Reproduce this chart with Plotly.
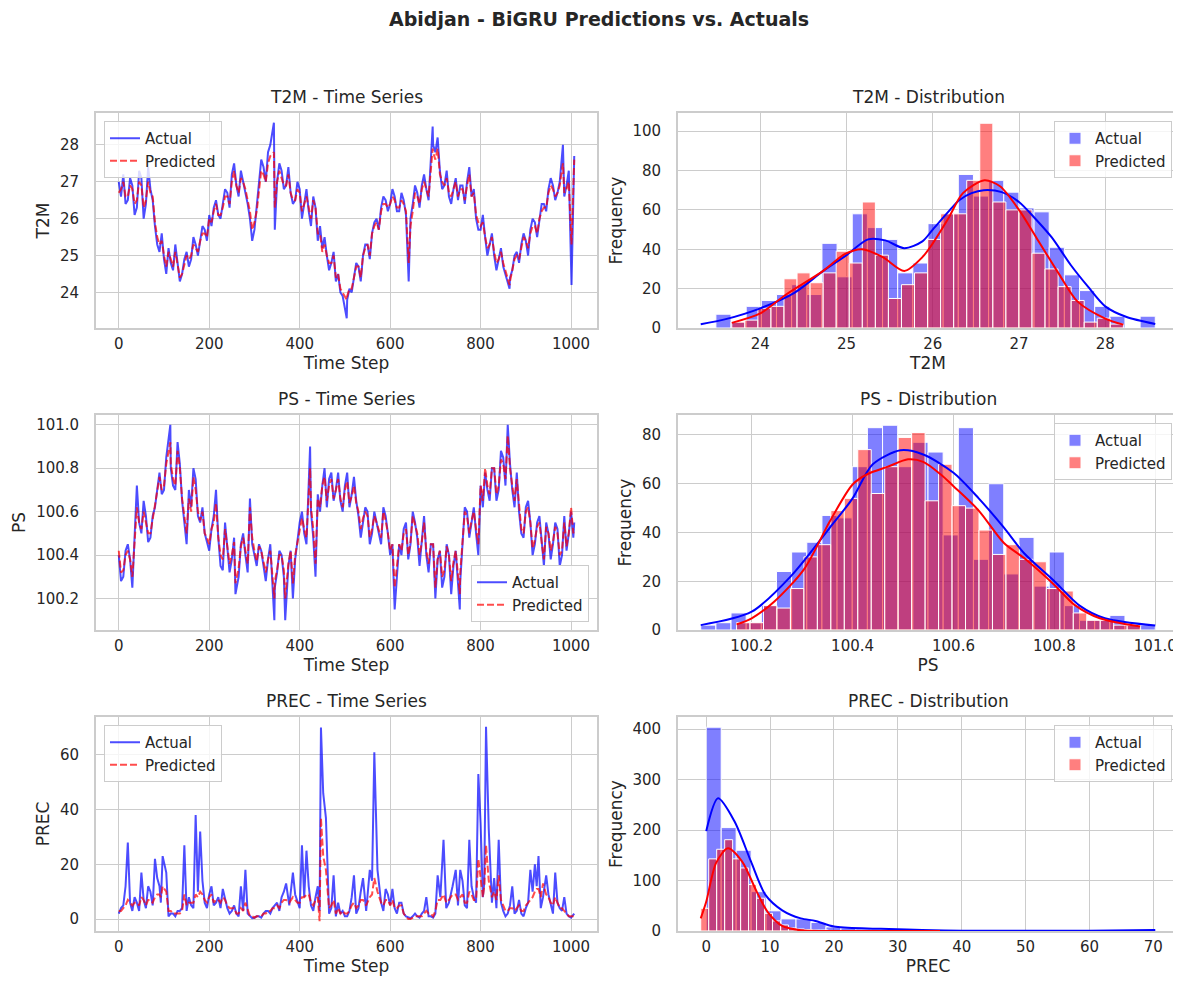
import numpy as np
import plotly.graph_objects as go
from plotly.subplots import make_subplots

# ---------------- time series ----------------
# main readings roughly every 10 steps, plus the visible spikes
t2m_steps = [0, 10, 20, 30, 40, 50, 60, 70, 80, 90,
             100, 110, 120, 130, 140, 150, 160, 170, 180, 190,
             200, 210, 220, 230, 240, 250, 260, 270, 280, 290,
             300, 310, 320, 330, 343, 350, 360, 370, 380, 390,
             400, 410, 420, 430, 440, 450, 460, 470, 480, 490,
             504, 510, 520, 530, 540, 550, 560, 570, 580, 590,
             600, 610, 620, 630, 641, 650, 660, 670, 680, 694,
             700, 710, 720, 730, 740, 750, 760, 770, 780, 790,
             800, 810, 820, 830, 840, 850, 864, 870, 880, 890,
             900, 910, 920, 930, 940, 950, 960, 970, 982, 990,
             1001, 1007]
t2m_actual = [27.0, 27.2, 26.5, 26.9, 26.3, 27.1, 26.4, 26.8, 25.8, 25.1,
              24.9, 25.2, 24.6, 24.8, 24.5, 25.1, 24.9, 25.3, 25.4, 25.7,
              26.1, 26.3, 26.1, 26.4, 26.7, 27.2, 26.9, 27.3, 26.8, 26.0,
              25.7, 27.0, 27.4, 27.8, 28.6, 27.0, 27.3, 26.9, 26.7, 26.5,
              26.8, 26.4, 26.2, 26.6, 25.4, 25.2, 25.0, 24.8, 24.3, 24.0,
              23.3, 24.1, 24.4, 24.7, 25.0, 25.3, 25.6, 26.0, 26.3, 26.5,
              26.4, 26.6, 26.2, 26.5, 24.3, 26.4, 26.7, 26.9, 26.8, 28.5,
              27.8, 27.3, 26.9, 26.6, 26.8, 26.5, 26.9, 27.0, 26.6, 26.0,
              25.7, 25.5, 25.3, 25.0, 24.9, 24.7, 24.1, 24.6, 25.1, 25.3,
              25.4, 25.7, 25.9, 26.0, 26.4, 26.8, 26.9, 26.7, 28.0, 26.9,
              24.2, 27.7]
t2m_pred = [26.7, 27.0, 26.6, 26.8, 26.5, 26.9, 26.5, 26.7, 25.9, 25.3,
            25.0, 25.1, 24.7, 24.8, 24.5, 25.0, 25.0, 25.2, 25.4, 25.6,
            26.0, 26.2, 26.1, 26.3, 26.6, 27.0, 26.9, 27.1, 26.8, 26.2,
            25.9, 26.8, 27.2, 27.5, 27.8, 27.0, 27.1, 26.9, 26.7, 26.5,
            26.7, 26.4, 26.3, 26.5, 25.6, 25.1, 25.0, 24.8, 24.4, 24.1,
            23.8, 24.1, 24.4, 24.7, 25.0, 25.3, 25.6, 25.9, 26.2, 26.4,
            26.4, 26.5, 26.3, 26.4, 24.8, 26.2, 26.6, 26.8, 26.8, 27.9,
            27.6, 27.2, 26.9, 26.7, 26.8, 26.6, 26.8, 26.9, 26.6, 26.1,
            25.8, 25.5, 25.3, 25.1, 24.9, 24.8, 24.2, 24.6, 25.0, 25.2,
            25.4, 25.6, 25.8, 26.0, 26.3, 26.7, 26.8, 26.7, 27.5, 26.8,
            25.3, 27.6]
# in-between readings (steps 5, 15, ..., 1005)
t2m_mid_steps = list(range(5, 1006, 10))
t2m_mid_actual = [26.6, 26.4, 27.1, 26.1, 27.3, 26.0, 27.4, 26.5, 25.3, 25.6,
                  24.5, 24.8, 25.3, 24.3, 24.9, 24.7, 25.5, 25.0, 25.8, 25.4,
                  25.8, 26.5, 26.0, 26.8, 26.3, 27.5, 26.6, 27.0, 26.4, 25.4,
                  26.4, 27.6, 27.0, 28.0, 25.7, 27.5, 26.8, 27.4, 26.4, 27.0,
                  26.0, 26.8, 25.8, 26.3, 25.8, 25.5, 24.6, 25.1, 24.5, 23.9,
                  23.8, 24.0, 24.8, 24.3, 25.3, 24.9, 25.9, 25.7, 26.6, 26.2,
                  26.8, 26.2, 26.7, 26.1, 26.0, 26.9, 26.3, 27.2, 26.5, 28.0,
                  28.2, 26.8, 27.3, 26.4, 27.1, 26.9, 26.4, 27.4, 26.8, 25.7,
                  26.1, 25.0, 25.6, 24.6, 25.2, 24.5, 24.4, 25.0, 24.8, 25.6,
                  25.0, 26.0, 25.5, 26.4, 26.2, 27.1, 26.5, 27.0, 26.6, 27.3,
                  26.5]
t2m_mid_pred = [26.8, 26.6, 26.9, 26.4, 27.0, 26.3, 27.0, 26.6, 25.5, 25.4,
                24.7, 24.9, 25.1, 24.4, 24.8, 24.9, 25.3, 25.1, 25.6, 25.5,
                25.9, 26.4, 26.1, 26.6, 26.4, 27.3, 26.7, 27.0, 26.5, 25.7,
                26.2, 27.3, 27.0, 27.7, 26.3, 27.3, 26.9, 27.2, 26.5, 26.8,
                26.2, 26.6, 26.0, 26.3, 25.6, 25.3, 24.8, 25.0, 24.5, 24.0,
                23.9, 24.1, 24.7, 24.4, 25.2, 25.0, 25.8, 25.7, 26.4, 26.3,
                26.6, 26.3, 26.5, 26.2, 25.8, 26.7, 26.4, 27.0, 26.6, 27.8,
                27.9, 27.0, 27.1, 26.6, 27.0, 26.8, 26.5, 27.2, 26.7, 25.9,
                25.9, 25.2, 25.5, 24.8, 25.1, 24.6, 24.3, 24.9, 24.9, 25.5,
                25.2, 25.8, 25.6, 26.2, 26.3, 26.9, 26.6, 26.9, 26.7, 27.0,
                26.8]

ps_steps = [0, 10, 20, 30, 40, 50, 60, 70, 80, 90,
            100, 114, 120, 130, 140, 150, 160, 170, 180, 190,
            200, 210, 220, 230, 240, 250, 258, 270, 280, 290,
            300, 310, 320, 330, 344, 350, 360, 368, 380, 390,
            400, 410, 423, 430, 440, 450, 460, 470, 480, 490,
            500, 510, 520, 530, 540, 550, 560, 570, 580, 590,
            600, 610, 620, 630, 640, 650, 660, 670, 680, 690,
            700, 710, 720, 730, 740, 754, 760, 770, 780, 790,
            800, 810, 820, 830, 840, 850, 860, 870, 880, 890,
            900, 910, 920, 930, 940, 950, 960, 970, 980, 990,
            1000, 1007]
ps_actual = [100.40, 100.30, 100.45, 100.25, 100.72, 100.50, 100.58, 100.48, 100.62, 100.78,
             100.70, 101.00, 100.72, 100.92, 100.65, 100.45, 100.62, 100.75, 100.55, 100.50,
             100.42, 100.58, 100.48, 100.33, 100.45, 100.38, 100.22, 100.45, 100.40, 100.66,
             100.40, 100.45, 100.35, 100.38, 100.10, 100.32, 100.40, 100.10, 100.42, 100.38,
             100.55, 100.50, 100.90, 100.48, 100.68, 100.72, 100.62, 100.78, 100.70, 100.65,
             100.72, 100.62, 100.76, 100.58, 100.55, 100.60, 100.50, 100.55, 100.45, 100.58,
             100.40, 100.15, 100.45, 100.52, 100.38, 100.60, 100.48, 100.45, 100.40, 100.45,
             100.20, 100.42, 100.30, 100.40, 100.35, 100.15, 100.45, 100.60, 100.55, 100.50,
             100.72, 100.78, 100.65, 100.80, 100.70, 100.85, 101.00, 100.70, 100.78, 100.50,
             100.62, 100.55, 100.45, 100.58, 100.35, 100.50, 100.45, 100.52, 100.40, 100.42,
             100.60, 100.55]
ps_pred = [100.42, 100.33, 100.42, 100.30, 100.62, 100.52, 100.55, 100.50, 100.64, 100.76,
           100.72, 100.92, 100.75, 100.88, 100.66, 100.50, 100.60, 100.70, 100.56, 100.50,
           100.45, 100.55, 100.48, 100.38, 100.45, 100.40, 100.27, 100.44, 100.42, 100.62,
           100.42, 100.44, 100.37, 100.38, 100.20, 100.33, 100.40, 100.20, 100.42, 100.40,
           100.52, 100.52, 100.80, 100.52, 100.66, 100.72, 100.65, 100.75, 100.70, 100.66,
           100.70, 100.64, 100.72, 100.60, 100.57, 100.58, 100.52, 100.55, 100.48, 100.56,
           100.42, 100.25, 100.45, 100.50, 100.40, 100.58, 100.50, 100.46, 100.42, 100.45,
           100.25, 100.42, 100.33, 100.40, 100.37, 100.22, 100.45, 100.58, 100.56, 100.52,
           100.72, 100.80, 100.68, 100.80, 100.72, 100.82, 100.95, 100.72, 100.75, 100.52,
           100.60, 100.55, 100.47, 100.55, 100.38, 100.50, 100.46, 100.50, 100.42, 100.44,
           100.62, 100.52]
ps_mid_steps = list(range(5, 1006, 10))
ps_mid_actual = [100.28, 100.42, 100.38, 100.48, 100.55, 100.65, 100.46, 100.58, 100.70, 100.68,
                 100.85, 100.80, 100.70, 100.82, 100.55, 100.70, 100.80, 100.58, 100.62, 100.46,
                 100.52, 100.70, 100.35, 100.55, 100.32, 100.48, 100.30, 100.50, 100.32, 100.45,
                 100.35, 100.42, 100.28, 100.45, 100.25, 100.42, 100.30, 100.35, 100.20, 100.48,
                 100.60, 100.45, 100.60, 100.30, 100.60, 100.80, 100.75, 100.65, 100.78, 100.60,
                 100.78, 100.68, 100.65, 100.48, 100.62, 100.45, 100.60, 100.50, 100.62, 100.50,
                 100.45, 100.30, 100.40, 100.55, 100.45, 100.55, 100.35, 100.58, 100.32, 100.45,
                 100.38, 100.25, 100.45, 100.22, 100.42, 100.28, 100.62, 100.48, 100.62, 100.40,
                 100.62, 100.70, 100.80, 100.65, 100.88, 100.72, 100.82, 100.62, 100.60, 100.48,
                 100.65, 100.40, 100.55, 100.45, 100.55, 100.38, 100.55, 100.35, 100.58, 100.50,
                 100.48]
ps_mid_pred = [100.32, 100.40, 100.38, 100.45, 100.55, 100.60, 100.50, 100.56, 100.70, 100.70,
               100.82, 100.82, 100.72, 100.80, 100.58, 100.66, 100.76, 100.60, 100.60, 100.48,
               100.52, 100.64, 100.40, 100.52, 100.36, 100.46, 100.34, 100.48, 100.36, 100.48,
               100.37, 100.42, 100.32, 100.42, 100.28, 100.40, 100.33, 100.36, 100.27, 100.46,
               100.57, 100.48, 100.62, 100.36, 100.62, 100.76, 100.72, 100.66, 100.75, 100.62,
               100.74, 100.67, 100.64, 100.52, 100.60, 100.48, 100.58, 100.52, 100.60, 100.50,
               100.45, 100.35, 100.42, 100.52, 100.46, 100.54, 100.40, 100.55, 100.36, 100.45,
               100.38, 100.30, 100.44, 100.28, 100.42, 100.32, 100.60, 100.50, 100.60, 100.45,
               100.65, 100.72, 100.80, 100.68, 100.84, 100.75, 100.80, 100.65, 100.62, 100.50,
               100.62, 100.43, 100.53, 100.46, 100.53, 100.42, 100.53, 100.40, 100.55, 100.50,
               100.50]

prec_steps = [0, 10, 20, 30, 40, 50, 60, 70, 80, 90,
              97, 105, 110, 120, 130, 140, 145, 150, 160, 170,
              180, 190, 200, 210, 220, 230, 240, 250, 260, 270,
              280, 290, 300, 310, 320, 330, 340, 350, 360, 370,
              385, 395, 405, 415, 425, 435, 444, 447, 452, 458,
              465, 475, 480, 490, 500, 510, 520, 530, 540, 555,
              565, 572, 580, 590, 600, 610, 620, 630, 640, 650,
              660, 670, 680, 690, 700, 705, 718, 730, 745, 755,
              765, 775, 785, 795, 800, 805, 812, 818, 825, 840,
              850, 860, 870, 880, 890, 900, 910, 920, 928, 938,
              945, 955, 965, 975, 985, 995, 1007]
prec_actual = [2, 5, 28, 3, 6, 17, 4, 10, 22, 12,
               23, 17, 1, 2, 3, 4, 27, 3, 5, 38,
               32, 6, 9, 5, 8, 11, 4, 3, 2, 12,
               18, 1, 0.5, 1, 2, 3, 4, 6, 8, 13,
               17, 6, 27, 25, 5, 8, 3, 70, 46, 37,
               2, 16, 1, 2, 1, 3, 16, 4, 15, 18,
               61, 18, 6, 11, 5, 4, 6, 2, 0.5, 1,
               1, 2, 8, 1, 2, 16, 29, 6, 18, 18,
               5, 29, 8, 53, 35, 8, 70.3, 33, 6, 29,
               3, 2, 12, 3, 2, 4, 18, 20, 23, 8,
               16, 6, 17, 4, 8, 1, 2]
prec_pred = [3, 4, 7, 5, 6, 8, 5, 7, 8, 9,
             12, 10, 3, 2, 2, 3, 9, 5, 6, 9,
             10, 7, 8, 6, 7, 8, 5, 4, 2, 4,
             6, 1, 0.5, 1, 2, 3, 4, 5, 6, 7,
             8, 6, 8, 9, 6, 7, -0.8, 37, 23, 18,
             4, 7, 2, 2, 2, 3, 6, 5, 7, 8,
             15, 10, 6, 7, 5, 4, 5, 2, 0, 0.5,
             1, 1, 3, 2, 3, 7, 9, 7, 9, 8,
             6, 10, 7, 22, 15, 8, 27, 14, 8, 16,
             5, 3, 4, 4, 3, 5, 7, 10, 11, 13,
             9, 6, 8, 4, 3, 1, 1]
prec_mid_steps = [5, 15, 25, 35, 45, 55, 65, 75, 85, 93,
                  101, 115, 125, 135, 155, 165, 175, 185, 195, 205,
                  215, 225, 235, 245, 255, 265, 275, 285, 295, 305,
                  315, 325, 335, 345, 355, 365, 377, 390, 400, 410,
                  420, 430, 440, 470, 485, 495, 505, 515, 525, 535,
                  547, 560, 585, 595, 605, 615, 625, 635, 645, 655,
                  665, 675, 685, 695, 711, 724, 738, 750, 760, 770,
                  780, 790, 808, 830, 835, 845, 855, 865, 875, 885,
                  895, 905, 915, 924, 933, 950, 960, 970, 980, 990,
                  1000]
prec_mid_actual = [4, 12, 6, 8, 3, 7, 12, 5, 15, 6,
                   20, 2, 1, 3, 8, 4, 10, 14, 4, 12,
                   6, 4, 7, 2, 5, 1, 3, 2, 0.3, 1,
                   0.5, 3, 2, 5, 3, 10, 5, 9, 4, 8,
                   12, 3, 12, 4, 6, 3, 1, 8, 2, 10,
                   3, 14, 3, 9, 11, 2, 6, 1, 0.3, 2,
                   0.5, 3, 1, 0.5, 8, 4, 12, 5, 14, 4,
                   12, 6, 13, 15, 4, 6, 1, 5, 2, 7,
                   1, 6, 10, 12, 4, 9, 2, 6, 3, 2,
                   0.5]
prec_mid_pred = [3, 5, 6, 6, 5, 7, 7, 6, 9, 8,
                 11, 3, 2, 2, 6, 6, 8, 9, 6, 9,
                 7, 6, 7, 4, 4, 2, 3, 3, 1, 1,
                 1, 2, 3, 4, 4, 7, 6, 7, 6, 8,
                 9, 5, 8, 5, 4, 3, 2, 5, 4, 7,
                 5, 9, 5, 7, 7, 4, 5, 1, 0, 1,
                 1, 2, 2, 1, 7, 6, 9, 7, 9, 6,
                 9, 7, 12, 10, 7, 7, 3, 4, 3, 5,
                 3, 6, 8, 11, 8, 8, 5, 6, 4, 2,
                 1]

# ---------------- histograms: 30 bins over each series' own range ----------------
t2m_act_range = (23.31, 28.58)
t2m_act_counts = [0, 7, 3, 11, 14, 17, 22, 17, 43, 26, 58, 51, 45, 28, 33,
                  53, 58, 78, 67, 75, 69, 61, 59, 41, 27, 19, 11, 6, 0, 6]
t2m_pred_range = (23.67, 28.21)
t2m_pred_counts = [3, 4, 10, 11, 25, 28, 23, 28, 39, 33, 64, 37, 15, 22, 28,
                   45, 58, 58, 75, 104, 64, 60, 60, 38, 30, 21, 14, 3, 5, 2]

ps_act_range = (100.099, 101.0)
ps_act_counts = [2, 3, 7, 3, 10, 24, 32, 36, 47, 46, 67, 83, 84, 67, 77,
                 73, 39, 83, 29, 60, 23, 38, 18, 32, 10, 4, 4, 6, 2, 2]
ps_pred_range = (100.17, 100.971)
ps_pred_counts = [3, 3, 10, 9, 17, 30, 35, 49, 54, 74, 56, 67, 79, 81, 53,
                  68, 51, 50, 41, 31, 35, 29, 28, 17, 16, 7, 4, 4, 2, 2]

prec_act_range = (0.0, 70.3)
prec_act_counts = [404, 205, 160, 78, 40, 24, 24, 17, 8, 6, 4, 3, 3, 2, 2,
                   1, 1, 0, 0, 0, 0, 0, 0, 0, 0, 0, 0, 0, 0, 1]
prec_pred_range = (-0.86, 36.6)
prec_pred_counts = [45, 143, 162, 181, 143, 125, 92, 65, 35, 20, 12, 6, 4, 3, 2,
                    2, 1, 1, 0, 1, 0, 0, 0, 0, 0, 0, 0, 0, 0, 1]

# KDE curves (as drawn)
t2m_kde_act_x = [23.31, 23.6, 24.0, 24.4, 24.73, 25.0, 25.25, 25.45, 25.67, 25.88, 26.0, 26.2,
                 26.31, 26.45, 26.59, 26.8, 27.0, 27.2, 27.38, 27.6, 27.8, 28.0, 28.24, 28.58]
t2m_kde_act_y = [1.9, 4.5, 10, 18, 29, 37, 45, 44.5, 40.5, 44, 50, 60,
                 65, 68.5, 70, 69, 64, 55, 46, 32, 21, 11, 5.7, 2]
t2m_kde_pred_x = [23.67, 24.0, 24.3, 24.73, 24.98, 25.18, 25.42, 25.67, 25.88, 26.0,
                  26.18, 26.35, 26.6, 26.78, 27.0, 27.2, 27.47, 27.68, 28.0, 28.21]
t2m_kde_pred_y = [2.6, 7.4, 17, 29, 37.5, 40, 36, 29, 36, 43,
                  55.6, 68.5, 75, 72, 60, 46, 27, 13.4, 4.8, 1.7]

ps_kde_act_x = [100.099, 100.2, 100.28, 100.355, 100.4, 100.44, 100.495, 100.54,
                100.6, 100.65, 100.7, 100.74, 100.8, 100.85, 100.9, 101.0]
ps_kde_act_y = [2, 7.5, 22.6, 42, 54, 68, 73.7, 72, 64.5, 54, 42, 31.5, 20, 10, 4.8, 1.8]
ps_kde_pred_x = [100.17, 100.2, 100.245, 100.304, 100.355, 100.4, 100.43, 100.47, 100.51, 100.54,
                 100.575, 100.6, 100.65, 100.7, 100.74, 100.8, 100.84, 100.89, 100.97]
ps_kde_pred_y = [2.3, 4.8, 11.7, 25, 44.6, 59.7, 64, 67, 70, 69,
                 63.8, 59, 49, 35.7, 29.5, 18.5, 10.3, 4.8, 1.4]

prec_kde_act_x = [0, 1.85, 4.4, 7, 9.3, 11.9, 14.8, 17.1, 20, 25.2, 28.6, 33.8, 40, 50, 60, 70.3]
prec_kde_act_y = [198, 263, 218, 138, 71, 41, 25, 20, 9, 5, 4, 2, 0.7, 0.3, 0.5, 2]
prec_kde_pred_x = [-0.86, 0, 1.55, 3.4, 5.6, 7.9, 9.6, 11.9, 14.8, 20, 30, 36.6]
prec_kde_pred_y = [25, 58, 135, 164, 138, 78, 38, 10, 1.3, 0.2, 0, 0]

variables = ["T2M", "PS", "PREC"]

W, H = 1181, 982
TEXT = "#262626"
GRID = "#cccccc"
FONT = "DejaVu Sans"
BLUE_LINE = "rgba(0,0,255,0.7)"
RED_LINE = "rgba(255,0,0,0.7)"
BLUE_BAR = "rgba(0,0,255,0.5)"
RED_BAR = "rgba(255,0,0,0.5)"

col_px = [(88, 589), (670, 1170)]
row_px = [(105, 320), (407, 622), (709, 923)]


def bins(rng, counts):
    edges = np.linspace(rng[0], rng[1], len(counts) + 1)
    return (edges[:-1] + edges[1:]) / 2, edges[1] - edges[0]


def padded(lo, hi, frac=0.05):
    d = (hi - lo) * frac
    return [lo - d, hi + d]


def merge(steps, a, p, msteps, ma, mp):
    s = np.array(steps + msteps, dtype=float)
    order = np.argsort(s, kind="stable")
    return s[order], np.array(a + ma)[order], np.array(p + mp)[order]


fig = make_subplots(rows=3, cols=2)

series = [
    merge(t2m_steps, t2m_actual, t2m_pred, t2m_mid_steps, t2m_mid_actual, t2m_mid_pred),
    merge(ps_steps, ps_actual, ps_pred, ps_mid_steps, ps_mid_actual, ps_mid_pred),
    merge(prec_steps, prec_actual, prec_pred, prec_mid_steps, prec_mid_actual, prec_mid_pred),
]
hists = [
    (t2m_act_range, t2m_act_counts, t2m_pred_range, t2m_pred_counts,
     t2m_kde_act_x, t2m_kde_act_y, t2m_kde_pred_x, t2m_kde_pred_y),
    (ps_act_range, ps_act_counts, ps_pred_range, ps_pred_counts,
     ps_kde_act_x, ps_kde_act_y, ps_kde_pred_x, ps_kde_pred_y),
    (prec_act_range, prec_act_counts, prec_pred_range, prec_pred_counts,
     prec_kde_act_x, prec_kde_act_y, prec_kde_pred_x, prec_kde_pred_y),
]
ts_legend_corner = ["tl", "br", "tl"]

annotations = []
axis_font = dict(family=FONT, size=15, color=TEXT)
title_font = dict(family=FONT, size=17, color=TEXT)


def style_axis(ax, title, rng, dtick, fmt=None, label_gap=0, title_gap=5):
    ax.update(
        title=dict(text=title, font=title_font, standoff=title_gap),
        range=rng, dtick=dtick, tickformat=fmt,
        showline=True, mirror=True, linecolor=GRID, linewidth=1.7,
        showgrid=True, gridcolor=GRID, gridwidth=1,
        zeroline=False, ticks="", tickfont=axis_font, automargin=False,
        ticklabelstandoff=label_gap,
    )


def place_legend(name, r, c, corner):
    x0, x1 = col_px[c]
    y0, y1 = row_px[r]
    if corner == "tl":
        x, y, xa, ya = (x0 + 8) / W, 1 - (y0 + 8) / H, "left", "top"
    elif corner == "tr":
        x, y, xa, ya = (x1 - 6) / W, 1 - (y0 + 8) / H, "right", "top"
    else:
        x, y, xa, ya = (x1 - 8) / W, 1 - (y1 - 8) / H, "right", "bottom"
    fig.layout[name] = dict(
        x=x, y=y, xanchor=xa, yanchor=ya, xref="paper", yref="paper",
        bgcolor="rgba(255,255,255,0.8)", bordercolor=GRID, borderwidth=1,
        font=dict(family=FONT, size=15, color=TEXT), itemwidth=30,
        tracegroupgap=0,
    )


for r, var in enumerate(variables):
    steps, act, pred = series[r]
    ts_leg = "legend" if r == 0 else f"legend{2 * r + 1}"
    hist_leg = f"legend{2 * r + 2}"

    # time series panel
    fig.add_trace(go.Scatter(x=steps, y=act, mode="lines", name="Actual",
                             line=dict(color=BLUE_LINE, width=2), legend=ts_leg),
                  row=r + 1, col=1)
    fig.add_trace(go.Scatter(x=steps, y=pred, mode="lines", name="Predicted",
                             line=dict(color=RED_LINE, width=2, dash="7px,3px"), legend=ts_leg),
                  row=r + 1, col=1)

    # distribution panel
    a_rng, a_cnt, p_rng, p_cnt, kax, kay, kpx, kpy = hists[r]
    ac, aw = bins(a_rng, a_cnt)
    pc, pw = bins(p_rng, p_cnt)
    fig.add_trace(go.Bar(x=ac, y=a_cnt, width=aw, name="Actual", legend=hist_leg,
                         marker=dict(color=BLUE_BAR, line=dict(color="white", width=1))),
                  row=r + 1, col=2)
    fig.add_trace(go.Bar(x=pc, y=p_cnt, width=pw, name="Predicted", legend=hist_leg,
                         marker=dict(color=RED_BAR, line=dict(color="white", width=1))),
                  row=r + 1, col=2)
    fig.add_trace(go.Scatter(x=kax, y=kay, mode="lines", showlegend=False,
                             line=dict(color="blue", width=2, shape="spline", smoothing=0.8)),
                  row=r + 1, col=2)
    fig.add_trace(go.Scatter(x=kpx, y=kpy, mode="lines", showlegend=False,
                             line=dict(color="red", width=2, shape="spline", smoothing=0.8)),
                  row=r + 1, col=2)

    # axes
    n_ts = 2 * r + 1
    n_h = 2 * r + 2
    for n, c in ((n_ts, 0), (n_h, 1)):
        xa = fig.layout["xaxis" if n == 1 else f"xaxis{n}"]
        ya = fig.layout["yaxis" if n == 1 else f"yaxis{n}"]
        xa.domain = [col_px[c][0] / W, col_px[c][1] / W]
        ya.domain = [1 - row_px[r][1] / H, 1 - row_px[r][0] / H]

    xts = fig.layout["xaxis" if n_ts == 1 else f"xaxis{n_ts}"]
    yts = fig.layout["yaxis" if n_ts == 1 else f"yaxis{n_ts}"]
    style_axis(xts, "Time Step", padded(steps.min(), steps.max()), 200, label_gap=1)
    ylo = min(act.min(), pred.min())
    yhi = max(act.max(), pred.max())
    ydt = {"T2M": 1, "PS": 0.2, "PREC": 20}[var]
    style_axis(yts, var, padded(ylo, yhi), ydt, ".1f" if var == "PS" else None,
               label_gap=12, title_gap=6)

    xh = fig.layout[f"xaxis{n_h}"]
    yh = fig.layout[f"yaxis{n_h}"]
    hlo = min(a_rng[0], p_rng[0])
    hhi = max(a_rng[1], p_rng[1])
    xdt = {"T2M": 1, "PS": 0.2, "PREC": 10}[var]
    style_axis(xh, var, padded(hlo, hhi), xdt, ".1f" if var == "PS" else None, label_gap=1)
    ymax = max(max(a_cnt), max(p_cnt)) * 1.05
    hdt = {"T2M": 20, "PS": 20, "PREC": 100}[var]
    style_axis(yh, "Frequency", [0, ymax], hdt, label_gap=12, title_gap=6)

    # panel titles
    for c, label in ((0, f"{var} - Time Series"), (1, f"{var} - Distribution")):
        annotations.append(dict(
            text=label, x=(col_px[c][0] + col_px[c][1]) / 2 / W,
            y=1 - (row_px[r][0] - 4) / H, xref="paper", yref="paper",
            xanchor="center", yanchor="bottom", showarrow=False, font=title_font))

    place_legend(ts_leg, r, 0, ts_legend_corner[r])
    place_legend(hist_leg, r, 1, "tr")

annotations.append(dict(
    text="<b>Abidjan - BiGRU Predictions vs. Actuals</b>", x=0.5, y=1 - 11 / H,
    xref="paper", yref="paper", xanchor="center", yanchor="middle", showarrow=False,
    font=dict(family=FONT, size=19, color=TEXT)))

fig.update_layout(
    width=W, height=H, margin=dict(l=0, r=0, t=0, b=0),
    paper_bgcolor="white", plot_bgcolor="white",
    barmode="overlay", annotations=annotations,
    font=dict(family=FONT, color=TEXT),
)

fig.write_html("out.html")
